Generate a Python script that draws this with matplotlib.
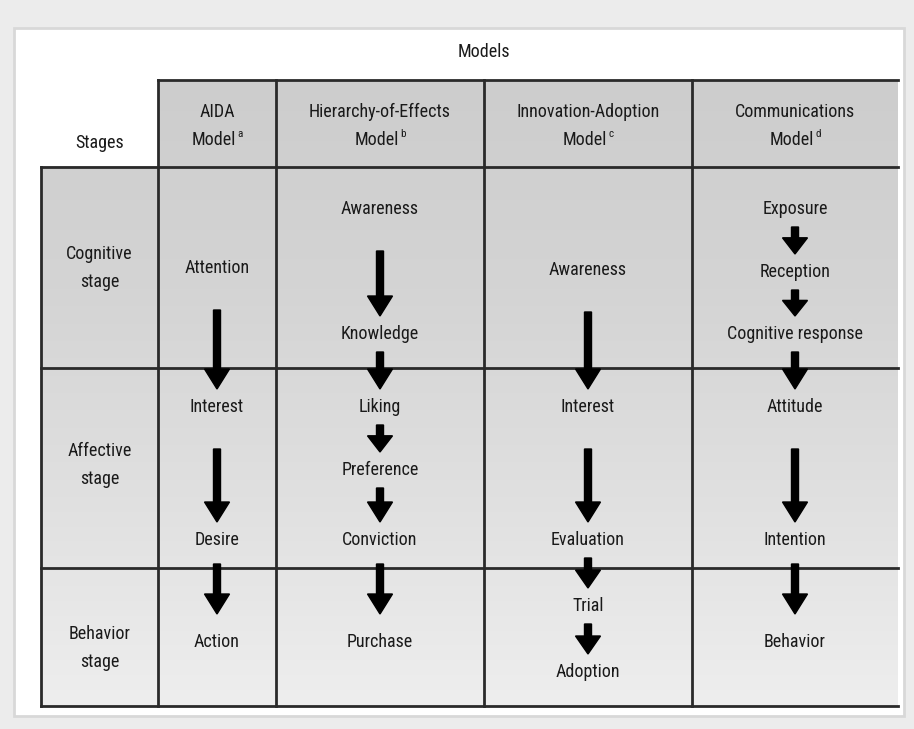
import matplotlib
matplotlib.use("Agg")
import matplotlib.pyplot as plt
import numpy as np
from matplotlib import font_manager
from matplotlib.patches import Rectangle, FancyArrow

# ---- content ----
title = "Models"
stage_header = "Stages"
stages = ["Cognitive\nstage", "Affective\nstage", "Behavior\nstage"]
model_names = ["AIDA", "Hierarchy-of-Effects", "Innovation-Adoption", "Communications"]
model_notes = ["a", "b", "c", "d"]
aida_steps = ["Attention", "Interest", "Desire", "Action"]
hoe_steps = ["Awareness", "Knowledge", "Liking", "Preference", "Conviction", "Purchase"]
ia_steps = ["Awareness", "Interest", "Evaluation", "Trial", "Adoption"]
comm_steps = ["Exposure", "Reception", "Cognitive response", "Attitude", "Intention", "Behavior"]
model_steps = [aida_steps, hoe_steps, ia_steps, comm_steps]

# ---- layout (pixels) ----
W, H = 914, 729
col_x = [41, 158, 276, 484, 692, 898]
row_y = [80, 167, 368, 568, 706]
stage_label_y = [268, 465, 648]
step_y = [
    [268, 407, 540, 642],
    [209, 334, 407, 470, 540, 642],
    [270, 407, 540, 606, 672],
    [209, 272, 334, 407, 540, 642],
]

available = {f.name for f in font_manager.fontManager.ttflist}
candidates = ["Roboto Condensed", "PT Sans Narrow", "Archivo Narrow", "Open Sans Condensed",
              "Encode Sans Condensed", "Barlow Condensed", "Fira Sans Condensed",
              "IBM Plex Sans Condensed", "Asap Condensed", "Saira Condensed",
              "Pragati Narrow", "Liberation Sans Narrow"]
chosen = [c for c in candidates if c in available][:1]
FONT = chosen + ["DejaVu Sans"]
plt.rcParams["font.family"] = FONT

fig = plt.figure(figsize=(W / 100, H / 100), dpi=100)
ax = fig.add_axes([0, 0, 1, 1])
ax.set_xlim(0, W)
ax.set_ylim(H, 0)
ax.axis("off")

# outer frame
ax.add_patch(Rectangle((0, 0), W, H, facecolor="#ececec", edgecolor="none", zorder=0))
ax.add_patch(Rectangle((14, 28), 890, 688, facecolor="white", edgecolor="#d8d8d8", lw=2, zorder=0.5))

# gradient shading for the table
grad = np.linspace(0, 1, 256).reshape(-1, 1)
cmap = matplotlib.colors.LinearSegmentedColormap.from_list(
    "g", ["#cdcdcd", "#d4d4d4", "#e0e0e0", "#eeeeee"])
ax.imshow(grad, cmap=cmap, extent=(col_x[0], col_x[-1], row_y[-1], row_y[0]),
          aspect="auto", zorder=1, interpolation="bilinear")
ax.add_patch(Rectangle((col_x[0] - 2, row_y[0] - 2), col_x[1] - col_x[0] + 2, row_y[1] - row_y[0] + 1,
                       facecolor="white", edgecolor="none", zorder=1.5))

lc = "#2a2a2a"
lw = 2.0
ax.plot([col_x[1], col_x[-1]], [row_y[0], row_y[0]], color=lc, lw=lw, zorder=2)
for y in row_y[1:]:
    ax.plot([col_x[0], col_x[-1]], [y, y], color=lc, lw=lw, zorder=2)
ax.plot([col_x[0], col_x[0]], [row_y[1], row_y[-1]], color=lc, lw=lw, zorder=2)
for x in col_x[1:-1]:
    ax.plot([x, x], [row_y[0], row_y[-1]], color=lc, lw=lw, zorder=2)

fs = 13
tc = "#1a1a1a"
ax.text(484, 52, title, ha="center", va="center", fontsize=fs, color=tc, zorder=5)
ax.text((col_x[0] + col_x[1]) / 2, 143, stage_header, ha="center", va="center", fontsize=fs,
        color=tc, zorder=5)
for i, (name, note) in enumerate(zip(model_names, model_notes)):
    cx = (col_x[i + 1] + col_x[i + 2]) / 2
    ax.text(cx, 112, name, ha="center", va="center", fontsize=fs, color=tc, zorder=5)
    t = ax.text(cx - 3, 140, "Model", ha="center", va="center", fontsize=fs, color=tc, zorder=5)
    ax.annotate(note, xy=(1.0, 1.0), xycoords=t, xytext=(1, -6), textcoords="offset points",
                ha="left", va="bottom", fontsize=8, color=tc, zorder=5)
for s, y in zip(stages, stage_label_y):
    ax.text((col_x[0] + col_x[1]) / 2, y, s, ha="center", va="center", fontsize=fs,
            linespacing=1.7, color=tc, zorder=5)

for i, (steps, ys) in enumerate(zip(model_steps, step_y)):
    cx = (col_x[i + 1] + col_x[i + 2]) / 2
    for s, y in zip(steps, ys):
        ax.text(cx, y, s, ha="center", va="center", fontsize=fs, color=tc, zorder=5)
    for y0, y1 in zip(ys[:-1], ys[1:]):
        gap = y1 - y0
        pad0, pad1 = 18, 18
        if gap > 120:
            pad0 = 42
        elif gap > 100:
            pad0, pad1 = 24, 28
        start = y0 + pad0
        end = y1 - pad1
        length = end - start
        hl = min(20, length * 0.6)
        ax.add_patch(FancyArrow(cx, start, 0, length, width=7, head_width=25,
                                head_length=hl, length_includes_head=True,
                                color="black", zorder=4))

fig.savefig("out.png", dpi=100)
